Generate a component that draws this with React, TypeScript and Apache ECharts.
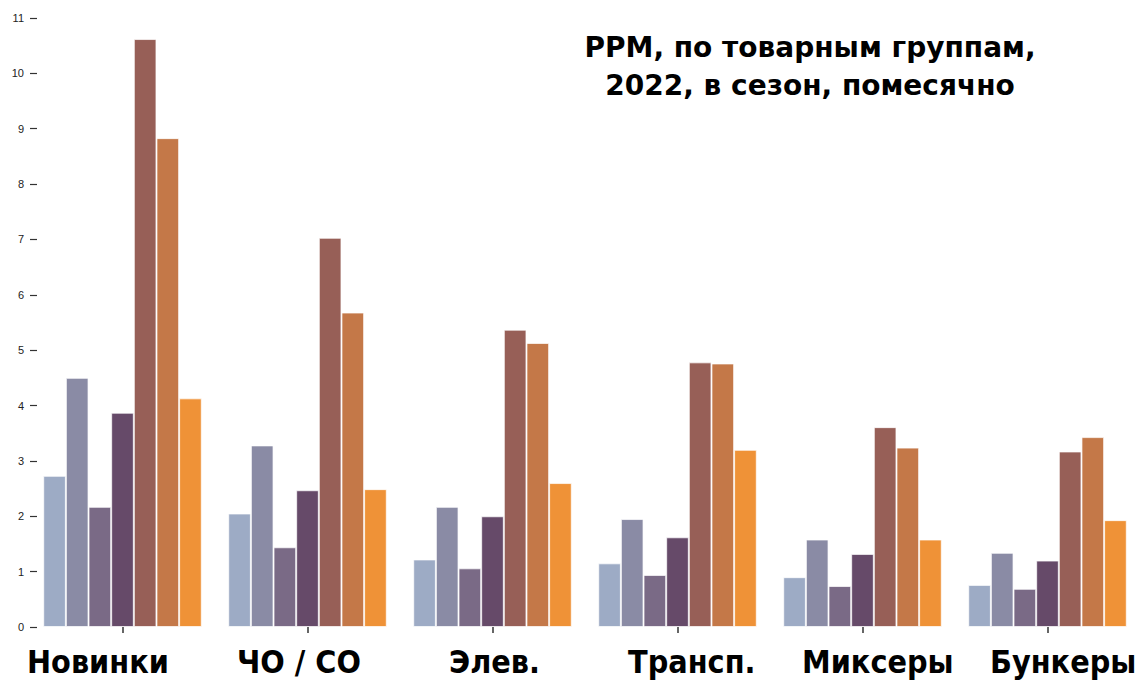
import React, { useEffect, useRef } from "react";
import * as echarts from "echarts";

const categories = ["Новинки", "ЧО / СО", "Элев.", "Трансп.", "Миксеры", "Бункеры"];
const s1 = [2.73, 2.05, 1.22, 1.15, 0.9, 0.76];
const s2 = [4.5, 3.28, 2.17, 1.95, 1.58, 1.34];
const s3 = [2.17, 1.44, 1.06, 0.94, 0.74, 0.69];
const s4 = [3.87, 2.47, 2.0, 1.62, 1.32, 1.2];
const s5 = [10.62, 7.03, 5.37, 4.78, 3.61, 3.17];
const s6 = [8.83, 5.68, 5.13, 4.76, 3.24, 3.43];
const s7 = [4.13, 2.49, 2.6, 3.2, 1.58, 1.93];
const seriesData = [s1, s2, s3, s4, s5, s6, s7];
const colors = ["#9DABC5", "#8A8BA5", "#7A6A86", "#664A69", "#975F57", "#C47848", "#EF9237"];
const yTicks = [0, 1, 2, 3, 4, 5, 6, 7, 8, 9, 10, 11];
const titleLines = ["PPM, по товарным группам,", "2022, в сезон, помесячно"];

// layout: left edges of category label texts (px)
const labelLeft = [27, 237, 449, 628, 802, 990];

export default function App() {
  const ref = useRef<HTMLDivElement>(null);
  useEffect(() => {
    if (!ref.current) return;
    const chart = echarts.init(ref.current, undefined, { renderer: "svg" });
    const labelFont = {
      fontFamily: "DejaVu Sans",
      fontWeight: "bold",
      fontSize: 32,
      fill: "#000",
    };
    chart.setOption({
      animation: false,
      backgroundColor: "#ffffff",
      graphic: [
        ...titleLines.map((t, i) => ({
          type: "text",
          x: 810,
          y: 33 + i * 38,
          style: {
            text: t,
            align: "center",
            verticalAlign: "top",
            fontFamily: "DejaVu Sans",
            fontWeight: "bold",
            fontSize: 28,
            fill: "#000",
          },
        })),
        ...categories.map((c, i) => ({
          type: "text",
          x: labelLeft[i],
          y: 646,
          scaleX: 0.9,
          style: { text: c, verticalAlign: "top", ...labelFont },
        })),
      ],
      grid: { left: 30, right: 2, top: 18, bottom: 58, containLabel: false },
      xAxis: {
        type: "category",
        data: categories,
        axisLine: { show: false },
        axisTick: { show: true, alignWithLabel: true, length: 6, lineStyle: { color: "#333", width: 1.5 } },
        axisLabel: { show: false },
      },
      yAxis: {
        type: "value",
        min: yTicks[0],
        max: yTicks[yTicks.length - 1],
        interval: 1,
        splitLine: { show: false },
        axisLine: { show: false },
        axisTick: { show: true, inside: true, length: 7, lineStyle: { color: "#333", width: 1.2 } },
        axisLabel: { fontFamily: "Liberation Sans", fontSize: 11, color: "#222", margin: 6 },
      },
      series: seriesData.map((d, i) => ({
        type: "bar",
        name: "s" + (i + 1),
        data: d,
        barGap: "0%",
        barCategoryGap: "14.3%",
        itemStyle: {
          color: colors[i],
          borderColor: "rgba(255,255,255,0.7)",
          borderWidth: 1,
        },
      })),
    });
    return () => chart.dispose();
  }, []);
  return <div ref={ref} style={{ width: 1142, height: 685, position: "absolute", left: 0, top: 0 }} />;
}
